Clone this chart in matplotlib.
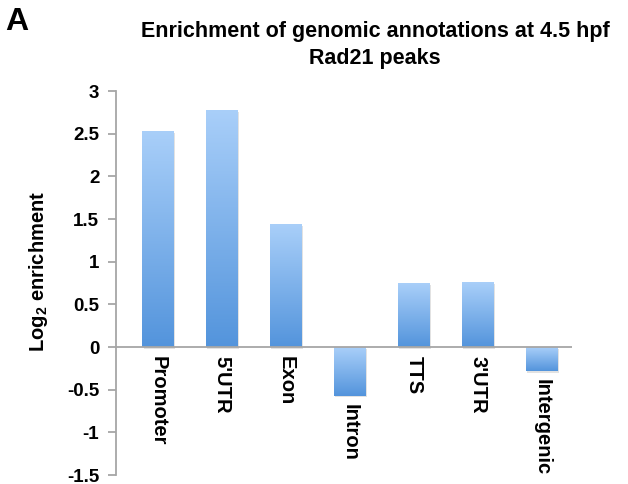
import numpy as np
import matplotlib
matplotlib.use('Agg')
import matplotlib.pyplot as plt
from matplotlib.colors import LinearSegmentedColormap

plt.rcParams['font.family'] = ['Liberation Sans', 'DejaVu Sans']
plt.rcParams['font.weight'] = 'bold'
plt.rcParams['mathtext.fontset'] = 'custom'
plt.rcParams['mathtext.rm'] = 'Liberation Sans:bold'
plt.rcParams['mathtext.bf'] = 'Liberation Sans:bold'

# Log2 enrichment of Rad21 peaks per genomic annotation
categories = ['Promoter', "5'UTR", 'Exon', 'Intron', 'TTS', "3'UTR", 'Intergenic']
enrichment = [2.53, 2.77, 1.44, -0.57, 0.75, 0.76, -0.28]
yticks = [-1.5, -1, -0.5, 0, 0.5, 1, 1.5, 2, 2.5, 3]

fig = plt.figure(figsize=(6.28, 4.84), dpi=100)
ax = fig.add_axes([116/628, 1 - 475/484, (572 - 116)/628, (475 - 91)/484])

x = np.arange(len(categories))
bars = ax.bar(x, enrichment, width=0.5, color='none', edgecolor='none')

# light (top) to dark (bottom) blue gradient inside each bar
cmap = LinearSegmentedColormap.from_list('bar', ['#a9cff9', '#5394dc'])
grad = np.linspace(0, 1, 256).reshape(-1, 1)
for b in bars:
    x0, y0 = b.get_x(), b.get_y()
    w, h = b.get_width(), b.get_height()
    lo, hi = min(y0, y0 + h), max(y0, y0 + h)
    # soft shadow
    ax.add_patch(plt.Rectangle((x0 + 0.02, lo - 0.02), w, hi - lo,
                               color='#e2e2e2', zorder=1, lw=0))
    ax.imshow(grad, cmap=cmap, extent=[x0, x0 + w, lo, hi],
              aspect='auto', zorder=2, interpolation='bilinear')

ax.axhline(0, color='#a6a6a6', lw=1.3, zorder=3)

# category names run downwards below the bars
for xi, name, v in zip(x, categories, enrichment):
    ax.text(xi, min(v, 0) - 0.1, name, rotation=270, ha='center', va='top',
            fontsize=14.5, fontweight='bold')

ax.set_xlim(-0.66, 6.47)
ax.set_ylim(-1.5, 3)
ax.set_yticks(yticks)
ax.set_yticklabels(['%g' % t for t in yticks], fontsize=13.5, fontweight='bold')
ax.set_xticks([])
for s in ['top', 'right', 'bottom']:
    ax.spines[s].set_visible(False)
ax.spines['left'].set_color('#a6a6a6')
ax.spines['left'].set_linewidth(1.3)
ax.tick_params(axis='y', length=6, width=1.3, color='#a6a6a6', pad=6)

ax.set_ylabel(r'Log$_{2}$ enrichment', fontsize=14.5, fontweight='bold')
ax.yaxis.set_label_coords(-0.145, 0.53)

fig.text(375/628, 1 - 21/484, 'Enrichment of genomic annotations at 4.5 hpf\nRad21 peaks',
         ha='center', va='top', fontsize=15.5, fontweight='bold', linespacing=1.35)
fig.text(5/628, 1 - 7/484, 'A', ha='left', va='top', fontsize=23, fontweight='bold')

fig.savefig('out.png', dpi=100)
